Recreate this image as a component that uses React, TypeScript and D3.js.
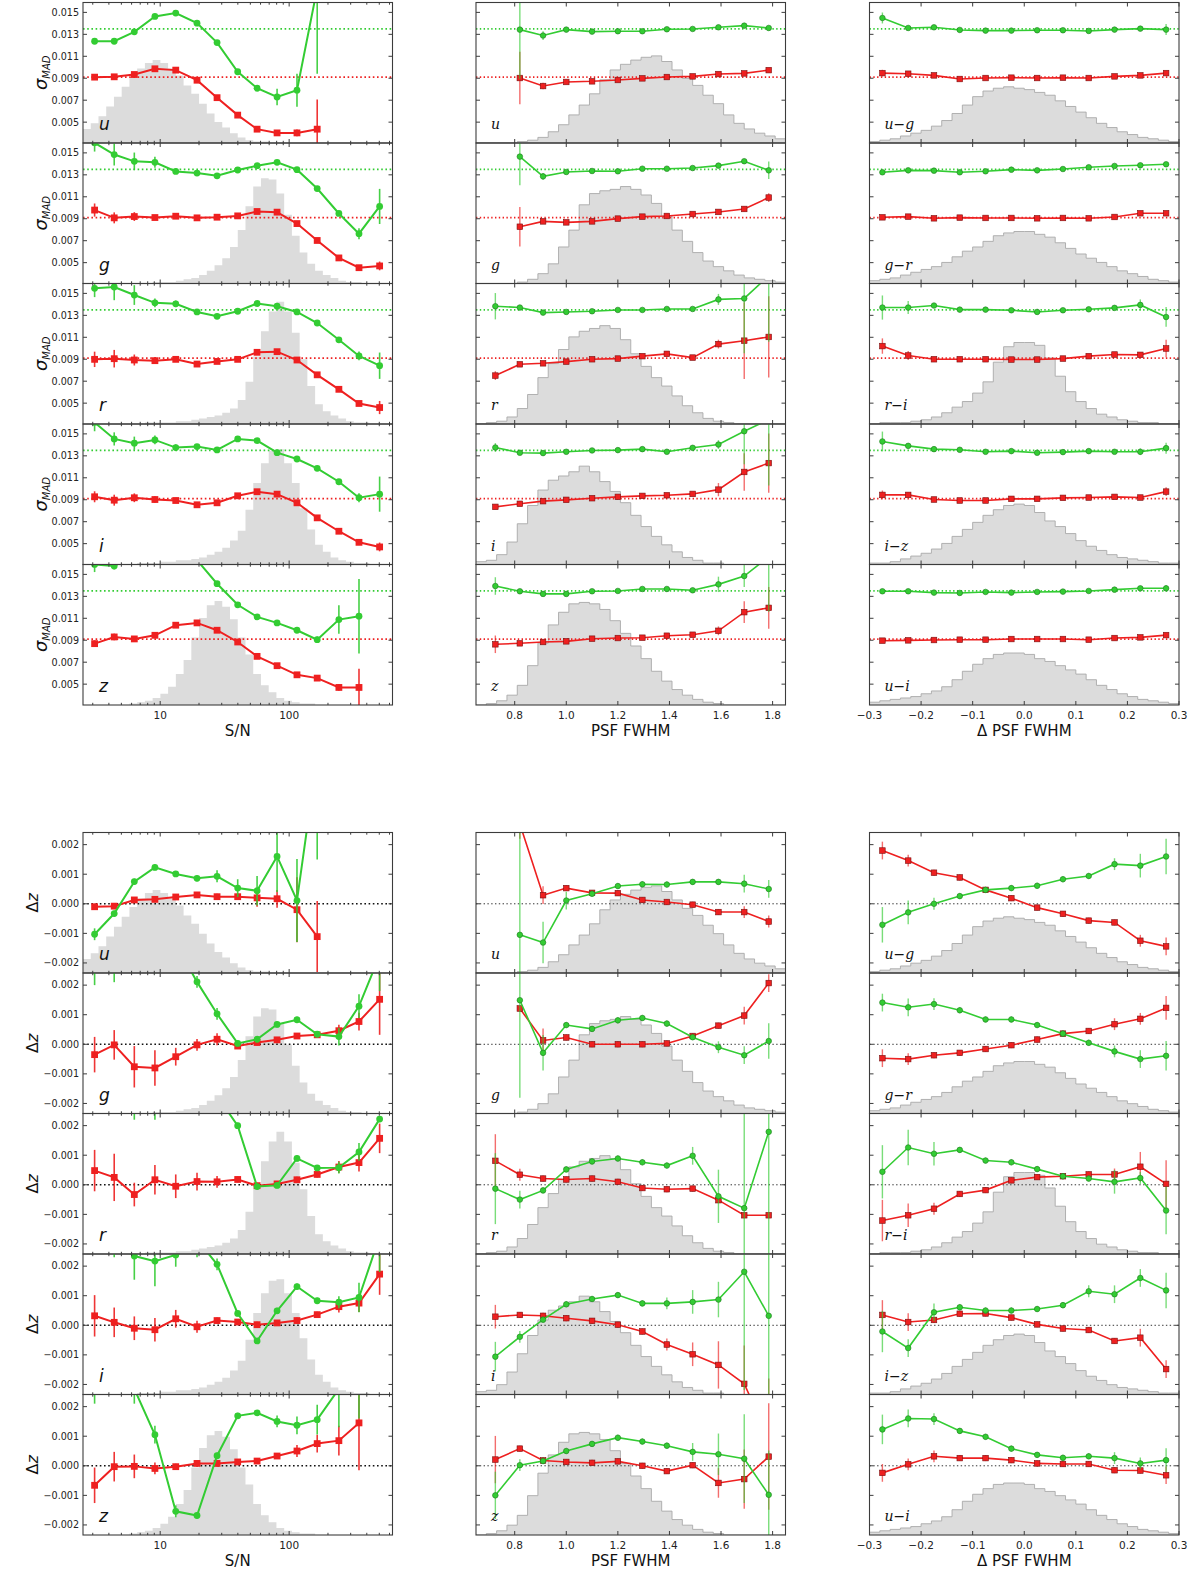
import React from "react";
import * as d3 from "d3";

// ---- categories / bins ----
const bands = ["u", "g", "r", "i", "z"];
const colorPairs = ["u−g", "g−r", "r−i", "i−z", "u−i"];
const snBins = [3.1, 4.4, 6.3, 9.1, 13.2, 19.3, 27.6, 39.9, 56.4, 80.6, 115, 165, 243, 348, 503];
const psfBins = [0.725, 0.82, 0.91, 1.0, 1.1, 1.2, 1.295, 1.39, 1.49, 1.59, 1.69, 1.785];
const dpsfBins = [-0.275, -0.225, -0.175, -0.125, -0.075, -0.025, 0.025, 0.075, 0.125, 0.175, 0.225, 0.275];

// ---- axis ticks ----
const madTicks = [0.005, 0.007, 0.009, 0.011, 0.013, 0.015];
const dzTicks = [-0.002, -0.001, 0, 0.001, 0.002];
const snMajor = [10, 100];
const psfMajor = [0.8, 1.0, 1.2, 1.4, 1.6, 1.8];
const dpsfMajor = [-0.3, -0.2, -0.1, 0, 0.1, 0.2, 0.3];
const madDomain = [0.0031, 0.0159];
const dzDomain = [-0.00234, 0.00241];
const madRefGreen = 0.0135;
const madRefRed = 0.0091;
const dzRef = 0;

// ---- sigma_MAD vs S/N ----
const madSnGreen = [
  [0.01237, 0.01237, 0.01323, 0.01463, 0.01494, 0.01402, 0.01225, 0.00959, 0.00809, 0.00729, 0.00791, 0.0172, null, null, null],
  [0.01592, 0.01485, 0.01423, 0.01414, 0.01331, 0.01316, 0.01291, 0.01344, 0.01383, 0.01414, 0.01347, 0.01175, 0.00948, 0.00764, 0.01012],
  [0.01546, 0.01558, 0.01485, 0.01414, 0.01405, 0.01331, 0.01291, 0.01337, 0.01408, 0.01383, 0.01331, 0.0123, 0.01077, 0.0093, 0.00841],
  [0.01604, 0.01454, 0.01415, 0.01445, 0.01375, 0.01384, 0.01354, 0.01454, 0.01439, 0.01329, 0.01271, 0.01186, 0.01064, 0.00918, 0.00951],
  [0.01591, 0.01576, 0.0168, 0.0178, 0.0175, 0.0163, 0.01415, 0.01223, 0.01113, 0.01058, 0.00991, 0.00905, 0.01088, 0.01119, null],
];
const madSnGreenErr = [
  [0.0001, 0.0001, 0.0002, 0.0001, 0.0001, 0.0001, 0.0001, 0.0001, 0.0001, 0.00075, 0.0015, 0.0078, null, null, null],
  [0.0008, 0.001, 0.0008, 0.0005, 0.0002, 0.0001, 0.0001, 0.0001, 0.0001, 0.0001, 0.0001, 0.0001, 0.0001, 0.0005, 0.0016],
  [0.0008, 0.0012, 0.0009, 0.0004, 0.0003, 0.0002, 0.0001, 0.0001, 0.0001, 0.0001, 0.0001, 0.0001, 0.0001, 0.0004, 0.0012],
  [0.0008, 0.0006, 0.0006, 0.0004, 0.0003, 0.0002, 0.0001, 0.0001, 0.0001, 0.0001, 0.0001, 0.0001, 0.0002, 0.0004, 0.0016],
  [0.0007, 0.0003, 0.0002, 0.0002, 0.0002, 0.0002, 0.0002, 0.0002, 0.0001, 0.0001, 0.0001, 0.0003, 0.0013, 0.0034, null],
];
const madSnRed = [
  [0.0091, 0.00913, 0.00934, 0.00986, 0.00974, 0.00882, 0.00723, 0.00564, 0.00436, 0.00402, 0.00402, 0.00436, null, null, null],
  [0.00979, 0.00908, 0.0092, 0.00911, 0.00923, 0.00908, 0.00914, 0.00926, 0.00966, 0.0096, 0.00856, 0.00702, 0.00543, 0.00454, 0.0047],
  [0.00899, 0.00905, 0.00893, 0.00887, 0.00899, 0.00856, 0.0088, 0.00899, 0.00963, 0.00969, 0.00893, 0.00758, 0.00626, 0.00497, 0.0046],
  [0.00927, 0.00896, 0.00918, 0.00902, 0.00893, 0.00854, 0.00872, 0.00936, 0.00973, 0.00951, 0.00872, 0.00735, 0.00613, 0.00512, 0.0047],
  [0.00869, 0.0093, 0.00912, 0.00945, 0.01037, 0.01058, 0.00991, 0.00884, 0.00753, 0.00668, 0.00585, 0.00555, 0.0047, 0.0047, null],
];
const madSnRedErr = [
  [0.0001, 0.0001, 0.0001, 0.0001, 0.0001, 0.0001, 0.0001, 0.0001, 0.0001, 0.0002, 0.0003, 0.0027, null, null, null],
  [0.0006, 0.0005, 0.0004, 0.0002, 0.0001, 0.0001, 0.0001, 0.0001, 0.0001, 0.0001, 0.0001, 0.0001, 0.0001, 0.0001, 0.0004],
  [0.0007, 0.0008, 0.0005, 0.0003, 0.0002, 0.0001, 0.0001, 0.0001, 0.0001, 0.0001, 0.0001, 0.0001, 0.0001, 0.0002, 0.0006],
  [0.0005, 0.0005, 0.0004, 0.0003, 0.0002, 0.0001, 0.0001, 0.0001, 0.0001, 0.0001, 0.0001, 0.0001, 0.0001, 0.0002, 0.0004],
  [0.0003, 0.0003, 0.0002, 0.0002, 0.0002, 0.0001, 0.0001, 0.0001, 0.0001, 0.0001, 0.0001, 0.0001, 0.0003, 0.0017, null],
];

// ---- sigma_MAD vs PSF FWHM ----
const madPsfGreen = [
  [null, 0.01343, 0.01289, 0.01343, 0.01325, 0.01328, 0.01328, 0.01346, 0.01349, 0.01364, 0.01379, 0.01358],
  [null, 0.01466, 0.01286, 0.01326, 0.01335, 0.01332, 0.01356, 0.01356, 0.01362, 0.01384, 0.01424, 0.01341],
  [0.01383, 0.01371, 0.01325, 0.01331, 0.01337, 0.01349, 0.01349, 0.01358, 0.01358, 0.01445, 0.01454, 0.0166],
  [0.01376, 0.01328, 0.01325, 0.01337, 0.01349, 0.01352, 0.01361, 0.01337, 0.01373, 0.01403, 0.01524, 0.0163],
  [0.01394, 0.01346, 0.01322, 0.01322, 0.01346, 0.01349, 0.01367, 0.01367, 0.01355, 0.01409, 0.01485, 0.0166],
];
const madPsfGreenErr = [
  [null, 0.0045, 0.0004, 0.0001, 0.0001, 0.0001, 0.0001, 0.0001, 0.0001, 0.0001, 0.0002, 0.0002],
  [null, 0.0026, 0.0003, 0.0001, 0.0001, 0.0001, 0.0001, 0.0001, 0.0001, 0.0001, 0.0002, 0.0008],
  [0.0012, 0.0002, 0.0001, 0.0001, 0.0001, 0.0001, 0.0001, 0.0001, 0.0001, 0.0005, 0.005, 0.006],
  [0.0004, 0.0001, 0.0001, 0.0001, 0.0001, 0.0001, 0.0001, 0.0001, 0.0002, 0.0004, 0.003, 0.006],
  [0.0008, 0.0001, 0.0001, 0.0001, 0.0001, 0.0001, 0.0001, 0.0001, 0.0001, 0.0007, 0.001, 0.005],
];
const madPsfRed = [
  [null, 0.00902, 0.00829, 0.00866, 0.00872, 0.00884, 0.00899, 0.00911, 0.00917, 0.00938, 0.00944, 0.00974],
  [null, 0.00827, 0.00876, 0.00867, 0.00876, 0.00901, 0.00919, 0.00925, 0.00943, 0.00962, 0.00989, 0.01093],
  [0.00751, 0.00854, 0.00863, 0.00878, 0.009, 0.00906, 0.00928, 0.00949, 0.00915, 0.01038, 0.01069, 0.01103],
  [0.00835, 0.00863, 0.00887, 0.00899, 0.00914, 0.00926, 0.00935, 0.00941, 0.00953, 0.00992, 0.01153, 0.01234],
  [0.00863, 0.00872, 0.00884, 0.0089, 0.00914, 0.0092, 0.00923, 0.00941, 0.0095, 0.00986, 0.01156, 0.01195],
];
const madPsfRedErr = [
  [null, 0.0024, 0.0003, 0.0001, 0.0001, 0.0001, 0.0001, 0.0001, 0.0001, 0.0001, 0.0001, 0.0001],
  [null, 0.0018, 0.0002, 0.0001, 0.0001, 0.0001, 0.0001, 0.0001, 0.0001, 0.0001, 0.0002, 0.0004],
  [0.0004, 0.0002, 0.0001, 0.0001, 0.0001, 0.0001, 0.0001, 0.0001, 0.0001, 0.0004, 0.0035, 0.0037],
  [0.0002, 0.0001, 0.0001, 0.0001, 0.0001, 0.0001, 0.0001, 0.0001, 0.0001, 0.0006, 0.0017, 0.0027],
  [0.0008, 0.0001, 0.0001, 0.0001, 0.0001, 0.0001, 0.0001, 0.0001, 0.0001, 0.0004, 0.001, 0.0019],
];

// ---- sigma_MAD vs delta PSF FWHM ----
const madDpsfGreen = [
  [0.01449, 0.01358, 0.01364, 0.0134, 0.01334, 0.01334, 0.01337, 0.01337, 0.01331, 0.01343, 0.01352, 0.01343],
  [0.01323, 0.01341, 0.01338, 0.01323, 0.01332, 0.01347, 0.01341, 0.01353, 0.01369, 0.01381, 0.01387, 0.01396],
  [0.01371, 0.01371, 0.01389, 0.01352, 0.01352, 0.01346, 0.01331, 0.01346, 0.01355, 0.01368, 0.01395, 0.01285],
  [0.01431, 0.01391, 0.01361, 0.01355, 0.01337, 0.01343, 0.01328, 0.01334, 0.01343, 0.01337, 0.01337, 0.0137],
  [0.01346, 0.01346, 0.01334, 0.01331, 0.0134, 0.01334, 0.0134, 0.01343, 0.01349, 0.01361, 0.01373, 0.01373],
];
const madDpsfGreenErr = [
  [0.0005, 0.0002, 0.0001, 0.0001, 0.0001, 0.0001, 0.0001, 0.0001, 0.0001, 0.0001, 0.0002, 0.0005],
  [0.0002, 0.0001, 0.0001, 0.0001, 0.0001, 0.0001, 0.0001, 0.0001, 0.0001, 0.0001, 0.0001, 0.0002],
  [0.0011, 0.0006, 0.0002, 0.0001, 0.0001, 0.0001, 0.0001, 0.0001, 0.0001, 0.0001, 0.0005, 0.0009],
  [0.0009, 0.0002, 0.0001, 0.0001, 0.0001, 0.0001, 0.0001, 0.0001, 0.0001, 0.0001, 0.0003, 0.0005],
  [0.0002, 0.0001, 0.0001, 0.0001, 0.0001, 0.0001, 0.0001, 0.0001, 0.0001, 0.0001, 0.0001, 0.0003],
];
const madDpsfRed = [
  [0.00947, 0.00941, 0.00926, 0.00893, 0.00902, 0.00905, 0.00902, 0.00905, 0.00902, 0.00917, 0.00926, 0.00947],
  [0.00913, 0.00919, 0.00904, 0.0091, 0.00907, 0.00907, 0.00904, 0.00907, 0.00904, 0.00916, 0.0095, 0.0095],
  [0.0102, 0.00934, 0.009, 0.009, 0.009, 0.00897, 0.00897, 0.00906, 0.00928, 0.00943, 0.0094, 0.00998],
  [0.00944, 0.00944, 0.00902, 0.00893, 0.00893, 0.00908, 0.00908, 0.00917, 0.0092, 0.00926, 0.0092, 0.00974],
  [0.00896, 0.00899, 0.00902, 0.00905, 0.00905, 0.00911, 0.00911, 0.00911, 0.00905, 0.0092, 0.00926, 0.00947],
];
const madDpsfRedErr = [
  [0.0003, 0.0002, 0.0001, 0.0001, 0.0001, 0.0001, 0.0001, 0.0001, 0.0001, 0.0001, 0.0001, 0.0002],
  [0.0002, 0.0001, 0.0001, 0.0001, 0.0001, 0.0001, 0.0001, 0.0001, 0.0001, 0.0001, 0.0001, 0.0002],
  [0.0007, 0.0004, 0.0001, 0.0001, 0.0001, 0.0001, 0.0001, 0.0001, 0.0001, 0.0001, 0.0001, 0.0008],
  [0.0004, 0.0002, 0.0001, 0.0001, 0.0001, 0.0001, 0.0001, 0.0001, 0.0001, 0.0001, 0.0001, 0.0004],
  [0.0002, 0.0001, 0.0001, 0.0001, 0.0001, 0.0001, 0.0001, 0.0001, 0.0001, 0.0001, 0.0001, 0.0002],
];

// ---- delta z vs S/N ----
const dzSnGreen = [
  [-0.00103, -0.00033, 0.00075, 0.00123, 0.00101, 0.00086, 0.00093, 0.00053, 0.00044, 0.0016, 0.00011, 0.005, null, null, null],
  [0.0035, 0.0032, 0.0038, 0.0035, 0.0034, 0.00211, 0.00103, 0.00003, 0.00017, 0.00067, 0.00083, 0.00034, 0.00026, 0.00129, 0.003],
  [0.004, 0.0038, 0.0035, 0.0035, 0.0037, 0.0035, 0.003, 0.002, -0.00006, -0.00002, 0.00089, 0.00057, 0.00058, 0.00111, 0.00222],
  [0.003, 0.0028, 0.00234, 0.00217, 0.00238, 0.0029, 0.00206, 0.0004, -0.00053, 0.00049, 0.00131, 0.00083, 0.00078, 0.00094, 0.003],
  [0.0032, 0.0035, 0.0026, 0.00105, -0.00154, -0.00168, 0.00034, 0.00169, 0.00179, 0.0015, 0.00137, 0.00156, 0.0026, 0.0031, null],
];
const dzSnGreenErr = [
  [0.0002, 0.0001, 0.0001, 0.0001, 0.0001, 0.0001, 0.0002, 0.0003, 0.0005, 0.0012, 0.0014, 0.0035, null, null, null],
  [0.0015, 0.0011, 0.001, 0.0011, 0.0008, 0.0002, 0.0002, 0.0001, 0.0001, 0.0001, 0.0001, 0.0001, 0.0003, 0.0004, 0.0012],
  [0.0012, 0.0012, 0.0013, 0.0013, 0.001, 0.0008, 0.0003, 0.0001, 0.0001, 0.0001, 0.0001, 0.0001, 0.0002, 0.0003, 0.0001],
  [0.0005, 0.0005, 0.0008, 0.00085, 0.0004, 0.0006, 0.0002, 0.0001, 0.0001, 0.0001, 0.0001, 0.0001, 0.0002, 0.0005, 0.0012],
  [0.0011, 0.0008, 0.0005, 0.0003, 0.0002, 0.0001, 0.0001, 0.0001, 0.0001, 0.0002, 0.0003, 0.0005, 0.0013, 0.0015, null],
];
const dzSnRed = [
  [-0.0001, -0.00008, 0.00013, 0.00015, 0.00023, 0.0003, 0.00024, 0.00024, 0.0002, 0.00017, -0.0002, -0.00111, null, null, null],
  [-0.00035, -0.00002, -0.00076, -0.0008, -0.00042, -0.00002, 0.00017, -0.00006, 0.00006, 0.00015, 0.00028, 0.00032, 0.00046, 0.00077, 0.00152],
  [0.00048, 0.00025, -0.00033, 0.00017, -0.00005, 0.00011, 0.0001, 0.00018, -0.00003, 0.00003, 0.00017, 0.00035, 0.0006, 0.00075, 0.00157],
  [0.00032, 0.0001, -0.0001, -0.00015, 0.00022, -0.00005, 0.00016, 0.00011, 0.00002, 0.00008, 0.00016, 0.00036, 0.00063, 0.00075, 0.00173],
  [-0.00066, -0.00003, -0.00002, -0.00009, -0.00003, 0.00008, 0.00008, 0.00013, 0.00016, 0.00033, 0.0005, 0.00075, 0.00085, 0.00145, null],
];
const dzSnRedErr = [
  [0.0001, 0.0001, 0.0001, 0.0001, 0.0001, 0.0001, 0.0001, 0.0001, 0.0003, 0.0003, 0.0011, 0.0012, null, null, null],
  [0.0006, 0.0005, 0.0007, 0.0006, 0.0003, 0.0002, 0.0002, 0.0001, 0.0001, 0.0001, 0.0001, 0.0001, 0.0002, 0.0003, 0.0012],
  [0.0007, 0.0008, 0.0004, 0.0005, 0.0004, 0.0003, 0.0002, 0.0001, 0.0001, 0.0001, 0.0001, 0.0001, 0.0002, 0.0003, 0.0005],
  [0.0007, 0.0005, 0.0004, 0.0004, 0.0003, 0.0002, 0.0001, 0.0001, 0.0001, 0.0001, 0.0001, 0.0001, 0.0002, 0.0003, 0.0007],
  [0.0006, 0.0005, 0.0004, 0.0002, 0.0001, 0.0001, 0.0001, 0.0001, 0.0001, 0.0001, 0.0002, 0.0003, 0.0005, 0.0016, null],
];

// ---- delta z vs PSF FWHM ----
const dzPsfGreen = [
  [null, -0.00105, -0.00131, 0.00011, 0.00034, 0.0006, 0.00066, 0.00065, 0.00074, 0.00074, 0.00068, 0.0005],
  [null, 0.00149, -0.00029, 0.00065, 0.00052, 0.00081, 0.00089, 0.0007, 0.00024, -0.0001, -0.00037, 0.00011],
  [-0.00013, -0.0005, -0.00019, 0.00052, 0.00079, 0.00089, 0.00076, 0.00065, 0.00098, -0.00039, -0.00079, 0.00179],
  [-0.00106, -0.00039, 0.00019, 0.00071, 0.00089, 0.00102, 0.00074, 0.00074, 0.00079, 0.00087, 0.00181, 0.00032],
  [-0.001, 0.00002, 0.00016, 0.0005, 0.00074, 0.00095, 0.00082, 0.00068, 0.00047, 0.00039, 0.00024, -0.00098],
];
const dzPsfGreenErr = [
  [null, 0.0035, 0.0007, 0.0003, 0.0001, 0.0001, 0.0001, 0.0001, 0.0001, 0.0001, 0.0003, 0.0003],
  [null, 0.0033, 0.0006, 0.0001, 0.0001, 0.0001, 0.0001, 0.0001, 0.0001, 0.0002, 0.0003, 0.0006],
  [0.0012, 0.0003, 0.0001, 0.0001, 0.0001, 0.0001, 0.0001, 0.0001, 0.0003, 0.0009, 0.0038, 0.0045],
  [0.0005, 0.0002, 0.0001, 0.0001, 0.0001, 0.0001, 0.0001, 0.0002, 0.0004, 0.0006, 0.004, 0.0035],
  [0.0008, 0.0002, 0.0001, 0.0001, 0.0001, 0.0001, 0.0001, 0.0001, 0.0003, 0.0007, 0.0015, 0.0015],
];
const dzPsfRed = [
  [null, 0.0027, 0.00029, 0.00053, 0.00037, 0.00036, 0.00013, 0.00006, -0.00003, -0.00028, -0.00028, -0.0006],
  [null, 0.00121, 0.00013, 0.00023, 0, 0, 0, 0.00003, 0.00028, 0.00063, 0.00097, 0.00207],
  [0.00081, 0.00034, 0.00021, 0.00018, 0.00021, 0.0001, -0.00011, -0.00015, -0.00013, -0.00052, -0.00103, -0.00103],
  [0.00029, 0.00035, 0.00032, 0.00024, 0.00015, 0.00002, -0.00021, -0.00065, -0.00098, -0.00134, -0.00198, -0.0038],
  [0.00021, 0.00058, 0.00018, 0.00013, 0.0001, 0.00015, 0, -0.00018, 0.00002, -0.00058, -0.00045, 0.00031],
];
const dzPsfRedErr = [
  [null, 0.0005, 0.0003, 0.0001, 0.0001, 0.0001, 0.0001, 0.0001, 0.0001, 0.0001, 0.0002, 0.0002],
  [null, 0.0001, 0.0004, 0.0001, 0.0001, 0.0001, 0.0001, 0.0001, 0.0001, 0.0001, 0.0003, 0.0003],
  [0.0009, 0.0002, 0.0001, 0.0001, 0.0001, 0.0001, 0.0001, 0.0001, 0.0001, 0.0001, 0.0001, 0.0001],
  [0.0004, 0.0001, 0.0001, 0.0001, 0.0001, 0.0001, 0.0001, 0.0002, 0.0004, 0.0008, 0.0013, 0.002],
  [0.0008, 0.0001, 0.0001, 0.0001, 0.0001, 0.0001, 0.0001, 0.0001, 0.0001, 0.0005, 0.001, 0.0018],
];

// ---- delta z vs delta PSF FWHM ----
const dzDpsfGreen = [
  [-0.00071, -0.00029, 0, 0.00026, 0.00047, 0.00053, 0.00061, 0.00083, 0.00094, 0.00134, 0.00129, 0.0016],
  [0.00141, 0.00125, 0.00136, 0.00115, 0.00084, 0.00084, 0.00065, 0.00036, 0.00005, -0.00024, -0.0005, -0.00039],
  [0.00044, 0.00126, 0.00105, 0.00118, 0.00082, 0.00076, 0.00053, 0.00029, 0.00021, 0.0001, 0.00023, -0.00087],
  [-0.00021, -0.00077, 0.00044, 0.00061, 0.0005, 0.0005, 0.00055, 0.00068, 0.00115, 0.00105, 0.0016, 0.00118],
  [0.00123, 0.0016, 0.00158, 0.00118, 0.00098, 0.00058, 0.00037, 0.00027, 0.00032, 0.00026, 0.00008, 0.00019],
];
const dzDpsfGreenErr = [
  [0.0006, 0.0004, 0.0002, 0.0001, 0.0001, 0.0001, 0.0001, 0.0001, 0.0001, 0.0002, 0.0004, 0.0006],
  [0.0003, 0.0003, 0.0002, 0.0001, 0.0001, 0.0001, 0.0001, 0.0001, 0.0001, 0.0002, 0.0003, 0.0005],
  [0.0009, 0.0006, 0.0004, 0.0001, 0.0001, 0.0001, 0.0001, 0.0001, 0.0001, 0.0004, 0.0002, 0.0008],
  [0.0007, 0.0003, 0.0003, 0.0001, 0.0001, 0.0001, 0.0001, 0.0001, 0.0002, 0.0003, 0.0003, 0.0006],
  [0.0005, 0.0003, 0.0002, 0.0001, 0.0001, 0.0001, 0.0001, 0.0001, 0.0001, 0.0002, 0.0002, 0.0004],
];
const dzDpsfRed = [
  [0.0018, 0.00146, 0.00105, 0.00089, 0.00047, 0.00019, -0.00013, -0.00034, -0.00057, -0.00063, -0.00125, -0.00144],
  [-0.00047, -0.0005, -0.00037, -0.00029, -0.00016, -0.00003, 0.00016, 0.00036, 0.00045, 0.00068, 0.00086, 0.00123],
  [-0.00121, -0.00103, -0.00081, -0.00031, -0.00018, 0.00015, 0.00026, 0.00029, 0.00035, 0.00035, 0.00061, 0.00003],
  [0.00035, 0.00011, 0.00018, 0.00039, 0.0004, 0.00026, 0.00003, -0.00011, -0.00016, -0.00053, -0.00042, -0.00148],
  [-0.00024, 0.00005, 0.00032, 0.00026, 0.00026, 0.00019, 0.00008, 0.00006, 0.00006, -0.00015, -0.00016, -0.00032],
];
const dzDpsfRedErr = [
  [0.0003, 0.0002, 0.0001, 0.0001, 0.0001, 0.0001, 0.0001, 0.0001, 0.0001, 0.0001, 0.0002, 0.0003],
  [0.0003, 0.0002, 0.0001, 0.0001, 0.0001, 0.0001, 0.0001, 0.0001, 0.0001, 0.0002, 0.0002, 0.0004],
  [0.0007, 0.0004, 0.0002, 0.0001, 0.0001, 0.0001, 0.0001, 0.0001, 0.0001, 0.0002, 0.0005, 0.0008],
  [0.0005, 0.0003, 0.0001, 0.0001, 0.0001, 0.0001, 0.0001, 0.0001, 0.0001, 0.0001, 0.0003, 0.0003],
  [0.0003, 0.0002, 0.0002, 0.0001, 0.0001, 0.0001, 0.0001, 0.0001, 0.0001, 0.0001, 0.0001, 0.0003],
];

// ---- histograms (relative counts, equal bins across each x range) ----
const histSn = [
  [10, 14, 19, 26, 33, 40, 47, 53, 57, 59, 57, 53, 48, 41, 35, 28, 21, 15, 11, 7, 4, 2, 1, 1, 0, 0, 0, 0, 0, 0, 0, 0, 0, 0, 0, 0, 0, 0, 0, 0],
  [0, 0, 0, 0, 0, 0, 0, 0, 0, 1, 1, 1, 2, 3, 4, 6, 9, 13, 18, 26, 38, 55, 69, 75, 74, 64, 49, 34, 22, 14, 9, 6, 4, 2, 1, 1, 0, 0, 0, 0],
  [0, 0, 0, 0, 0, 0, 0, 0, 1, 1, 1, 1, 2, 2, 3, 4, 5, 6, 8, 11, 17, 30, 48, 66, 80, 87, 80, 65, 46, 27, 14, 9, 6, 4, 2, 1, 1, 0, 0, 0],
  [0, 0, 0, 0, 0, 0, 0, 1, 1, 1, 2, 2, 3, 3, 4, 5, 7, 9, 12, 17, 24, 39, 58, 72, 81, 82, 72, 58, 40, 25, 14, 9, 5, 3, 2, 1, 1, 0, 0, 0],
  [0, 0, 0, 0, 0, 0, 1, 2, 3, 5, 8, 13, 22, 32, 48, 62, 71, 74, 70, 61, 48, 36, 22, 14, 9, 5, 3, 2, 1, 1, 0, 0, 0, 0, 0, 0, 0, 0, 0, 0],
];
const histPsf = [
  [0, 0, 0, 0, 1, 2, 4, 8, 13, 20, 27, 35, 45, 52, 56, 59, 61, 62, 58, 52, 46, 41, 34, 28, 20, 14, 10, 7, 5, 3],
  [0, 0, 0, 0, 1, 3, 7, 14, 26, 38, 56, 64, 66, 67, 69, 67, 63, 57, 48, 38, 30, 22, 16, 12, 9, 6, 4, 3, 2, 1],
  [0, 1, 2, 5, 11, 21, 33, 43, 53, 62, 66, 68, 70, 68, 60, 50, 41, 33, 27, 20, 13, 8, 4, 2, 1, 0, 0, 0, 0, 0],
  [2, 3, 7, 16, 29, 42, 53, 60, 63, 66, 70, 66, 59, 52, 44, 35, 27, 20, 14, 9, 5, 3, 1, 1, 0, 0, 0, 0, 0, 0],
  [0, 1, 3, 7, 14, 28, 44, 57, 66, 72, 73, 72, 68, 60, 51, 42, 33, 24, 17, 11, 7, 4, 2, 1, 0, 0, 0, 0, 0, 0],
];
const histDpsf = [
  [1, 2, 3, 5, 7, 9, 12, 16, 21, 27, 33, 37, 39, 40, 39, 38, 36, 34, 30, 26, 22, 18, 14, 11, 8, 6, 4, 3, 2, 1],
  [2, 3, 4, 6, 8, 10, 12, 15, 19, 23, 26, 30, 34, 36, 37, 37, 35, 33, 29, 25, 21, 18, 15, 12, 9, 7, 5, 3, 2, 1],
  [0, 1, 1, 1, 2, 3, 5, 8, 12, 16, 22, 30, 44, 55, 58, 58, 56, 47, 34, 23, 16, 11, 7, 5, 3, 2, 1, 1, 0, 0],
  [1, 1, 2, 4, 6, 8, 11, 15, 20, 25, 30, 35, 39, 42, 43, 42, 37, 31, 27, 22, 17, 13, 10, 7, 5, 4, 3, 2, 1, 1],
  [2, 3, 4, 5, 6, 8, 10, 13, 18, 24, 29, 33, 36, 37, 37, 36, 33, 31, 28, 25, 22, 18, 14, 11, 8, 6, 4, 3, 2, 1],
];

// ---- layout ----
const W = 1200;
const H = 1569;
const colLeft = [83, 476, 869.5];
const panelW = 309.5;
const panelH = 140.5;
const blockTop = [2.5, 832.5];
const GREEN = "#33cc33";
const RED = "#ee2020";
const GREEN_EDGE = "#1f7a1f";
const RED_EDGE = "#7a1010";
const FRAME = "#3c3c3c";

const xScales = [
  d3.scaleLog().domain([2.52, 633]).range([0, panelW]),
  d3.scaleLinear().domain([0.65, 1.85]).range([0, panelW]),
  d3.scaleLinear().domain([-0.3, 0.3]).range([0, panelW]),
];
const xBins = [snBins, psfBins, dpsfBins];
const xMajor = [snMajor, psfMajor, dpsfMajor];
const hists = [histSn, histPsf, histDpsf];
const greens = [
  [[madSnGreen, madSnGreenErr], [madPsfGreen, madPsfGreenErr], [madDpsfGreen, madDpsfGreenErr]],
  [[dzSnGreen, dzSnGreenErr], [dzPsfGreen, dzPsfGreenErr], [dzDpsfGreen, dzDpsfGreenErr]],
];
const reds = [
  [[madSnRed, madSnRedErr], [madPsfRed, madPsfRedErr], [madDpsfRed, madDpsfRedErr]],
  [[dzSnRed, dzSnRedErr], [dzPsfRed, dzPsfRedErr], [dzDpsfRed, dzDpsfRedErr]],
];

function histPoints(col, counts) {
  const [lo, hi] = xScales[col].domain();
  const n = counts.length;
  const edge = (k) => (col === 0 ? lo * Math.pow(hi / lo, k / n) : lo + ((hi - lo) * k) / n);
  const pts = counts.map((c, k) => [edge(k), c]);
  pts.push([edge(n), counts[n - 1]]);
  return pts;
}

function Series({ xs, vals, errs, color, edge, square, x, y, big }) {
  const pts = xs
    .map((xv, i) => ({ xv, v: vals[i], e: errs[i] || 0 }))
    .filter((p) => p.v != null);
  const line = d3.line().x((p) => x(p.xv)).y((p) => y(p.v));
  const r = big ? 3.4 : 2.8;
  const s = big ? 6.8 : 5.6;
  return (
    <g>
      {pts.map((p, i) => (
        <line
          key={"e" + i}
          x1={x(p.xv)}
          x2={x(p.xv)}
          y1={y(p.v - p.e)}
          y2={y(p.v + p.e)}
          stroke={color}
          strokeWidth={big ? 1.6 : 1.4}
          opacity={big ? 0.9 : 0.65}
        />
      ))}
      <path d={line(pts)} fill="none" stroke={color} strokeWidth={big ? 2 : 1.6} />
      {pts.map((p, i) =>
        square ? (
          <rect
            key={"m" + i}
            x={x(p.xv) - s / 2}
            y={y(p.v) - s / 2}
            width={s}
            height={s}
            fill={color}
            stroke={big ? "none" : edge}
            strokeWidth={0.6}
          />
        ) : (
          <circle
            key={"m" + i}
            cx={x(p.xv)}
            cy={y(p.v)}
            r={r}
            fill={color}
            stroke={big ? "none" : edge}
            strokeWidth={0.6}
          />
        )
      )}
    </g>
  );
}

function Panel({ block, col, row }) {
  const x = xScales[col];
  const y = d3.scaleLinear().domain(block === 0 ? madDomain : dzDomain).range([panelH, 0]);
  const yh = d3.scaleLinear().domain([0, 100]).range([panelH, 0]);
  const left = colLeft[col];
  const top = blockTop[block] + row * panelH;
  const clipId = `clip-${block}-${col}-${row}`;
  const big = col === 0;
  const hist = histPoints(col, hists[col][row]);
  const area = d3.area().x((d) => x(d[0])).y0(panelH).y1((d) => yh(d[1])).curve(d3.curveStepAfter);
  const outline = d3.line().x((d) => x(d[0])).y((d) => yh(d[1])).curve(d3.curveStepAfter);
  const yTicks = block === 0 ? madTicks : dzTicks;
  const majors = xMajor[col];
  const minors = col === 0 ? x.ticks().filter((t) => !majors.includes(t)) : [];
  const refs =
    block === 0
      ? [
          { v: madRefGreen, c: GREEN, w: 1.6 },
          { v: madRefRed, c: RED, w: 1.6 },
        ]
      : [{ v: dzRef, c: big ? "#111" : "#333", w: big ? 1.6 : 1 }];
  const [gv, ge] = greens[block][col];
  const [rv, re] = reds[block][col];
  const yFmt = d3.format(".3f");
  const xFmt = col === 0 ? d3.format("d") : d3.format(".1f");
  const label = col === 2 ? colorPairs[row] : bands[row];
  return (
    <g transform={`translate(${left},${top})`}>
      <defs>
        <clipPath id={clipId}>
          <rect width={panelW} height={panelH} />
        </clipPath>
      </defs>
      <g clipPath={`url(#${clipId})`}>
        <path d={area(hist)} fill="#dcdcdc" />
        {!big && <path d={outline(hist)} fill="none" stroke="#a9a9a9" strokeWidth={0.9} />}
        {refs.map((rf, i) => (
          <line
            key={i}
            x1={0}
            x2={panelW}
            y1={y(rf.v)}
            y2={y(rf.v)}
            stroke={rf.c}
            strokeWidth={rf.w}
            strokeDasharray={big ? "1.6,2.6" : "1.4,2.4"}
          />
        ))}
        <Series xs={xBins[col]} vals={rv[row]} errs={re[row]} color={RED} edge={RED_EDGE} square x={x} y={y} big={big} />
        <Series xs={xBins[col]} vals={gv[row]} errs={ge[row]} color={GREEN} edge={GREEN_EDGE} x={x} y={y} big={big} />
      </g>
      <rect width={panelW} height={panelH} fill="none" stroke={FRAME} strokeWidth={1.1} />
      {yTicks.map((t) => (
        <g key={"y" + t}>
          <line x1={0} x2={4} y1={y(t)} y2={y(t)} stroke={FRAME} />
          <line x1={panelW - 4} x2={panelW} y1={y(t)} y2={y(t)} stroke={FRAME} />
          {big && (
            <text x={-4} y={y(t)} dy="0.35em" textAnchor="end" fontSize={9.6} fill="#222">
              {yFmt(t)}
            </text>
          )}
        </g>
      ))}
      {majors.map((t) => (
        <g key={"x" + t}>
          <line x1={x(t)} x2={x(t)} y1={0} y2={4} stroke={FRAME} />
          <line x1={x(t)} x2={x(t)} y1={panelH - 4} y2={panelH} stroke={FRAME} />
          {row === 4 && (
            <text x={x(t)} y={panelH + 14} textAnchor="middle" fontSize={10.5} fill="#222">
              {xFmt(t)}
            </text>
          )}
        </g>
      ))}
      {minors.map((t) => (
        <g key={"m" + t}>
          <line x1={x(t)} x2={x(t)} y1={0} y2={2.2} stroke={FRAME} />
          <line x1={x(t)} x2={x(t)} y1={panelH - 2.2} y2={panelH} stroke={FRAME} />
        </g>
      ))}
      {big ? (
        <text x={16} y={panelH - 13} fontSize={17} fontStyle="italic" fill="#111">
          {label}
        </text>
      ) : (
        <text x={15} y={panelH - 14} fontSize={14} fontStyle="italic" fontFamily="DejaVu Serif" fill="#111">
          {label}
        </text>
      )}
      {big && block === 0 && (
        <text transform={`translate(-36,${panelH / 2}) rotate(-90)`} textAnchor="middle" fill="#111">
          <tspan fontSize={18} fontStyle="italic">σ</tspan>
          <tspan fontSize={10} fontStyle="italic" dy={2.6}>MAD</tspan>
        </text>
      )}
      {big && block === 1 && (
        <text transform={`translate(-45,${panelH / 2}) rotate(-90)`} textAnchor="middle" fontSize={16} fill="#111">
          <tspan>Δ</tspan>
          <tspan fontStyle="italic">z</tspan>
        </text>
      )}
    </g>
  );
}

const xTitles = ["S/N", "PSF FWHM", "Δ PSF FWHM"];

export default function App() {
  const panels = [];
  for (let b = 0; b < 2; b++)
    for (let c = 0; c < 3; c++)
      for (let r = 0; r < 5; r++) panels.push(<Panel key={`${b}-${c}-${r}`} block={b} col={c} row={r} />);
  return (
    <svg
      width={W}
      height={H}
      style={{ position: "absolute", left: 0, top: 0, background: "#fff" }}
      fontFamily="DejaVu Sans"
    >
      <rect width={W} height={H} fill="#fff" />
      {panels}
      {[0, 1].map((b) =>
        xTitles.map((t, c) => (
          <text
            key={`t${b}${c}`}
            x={colLeft[c] + panelW / 2}
            y={blockTop[b] + 5 * panelH + 31}
            textAnchor="middle"
            fontSize={15}
            fill="#111"
          >
            {t}
          </text>
        ))
      )}
    </svg>
  );
}
